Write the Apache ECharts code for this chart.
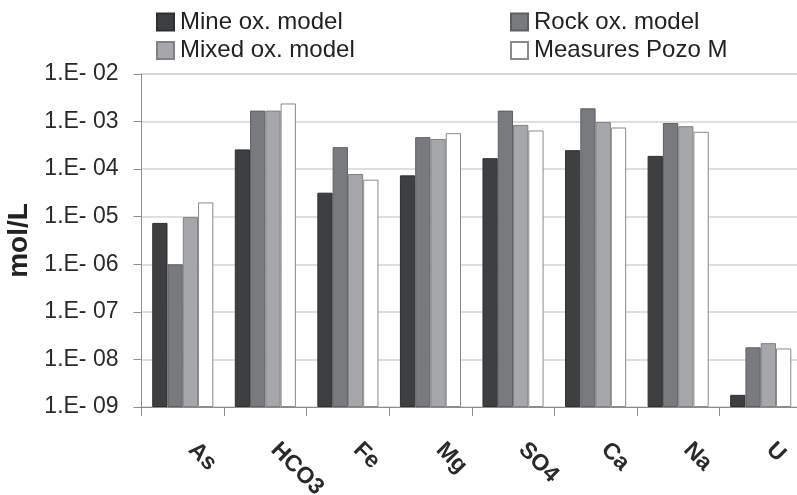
<!DOCTYPE html>
<html>
<head>
<meta charset="utf-8">
<script src="https://cdn.jsdelivr.net/npm/echarts@6/dist/echarts.min.js"></script>
<style>html,body{margin:0;padding:0;background:#fff}#c{width:797px;height:495px}</style>
</head>
<body>
<div id="c"></div>
<script>
const categories = ['As', 'HCO3', 'Fe', 'Mg', 'SO4', 'Ca', 'Na', 'U'];
const mineOx     = [7.4e-6, 2.6e-4, 3.2e-5, 7.4e-5, 1.7e-4, 2.5e-4, 1.9e-4, 1.8e-9];
const rockOx     = [1.0e-6, 1.7e-3, 2.9e-4, 4.7e-4, 1.7e-3, 1.9e-3, 9.3e-4, 1.8e-8];
const mixedOx    = [9.8e-6, 1.7e-3, 7.9e-5, 4.3e-4, 8.5e-4, 9.8e-4, 8.0e-4, 2.2e-8];
const measures   = [2.0e-5, 2.4e-3, 6.0e-5, 5.7e-4, 6.5e-4, 7.5e-4, 6.1e-4, 1.7e-8];
const seriesNames = ['Mine ox. model', 'Rock ox. model', 'Mixed ox. model', 'Measures Pozo M'];
const yMin = 1e-9, yMax = 1e-2;

const fills = ['#3e3f41', '#797a7e', '#a6a7ab', '#ffffff'];
const borders = ['#2e2f31', '#5e5f63', '#808185', '#8a8a8a'];
const dataSets = [mineOx, rockOx, mixedOx, measures];

const chart = echarts.init(document.getElementById('c'), null, {renderer: 'canvas'});
const font = 'Liberation Sans, Arial, sans-serif';
const legendPos = [[156, 10], [510, 10], [156, 38.5], [510, 38.5]];

chart.setOption({
  animation: false,
  backgroundColor: '#fff',
  textStyle: {fontFamily: font},
  legend: seriesNames.map((n, i) => ({
    data: [n], left: legendPos[i][0], top: legendPos[i][1],
    icon: 'rect', itemWidth: 17, itemHeight: 17, itemGap: 6,
    padding: 0,
    textStyle: {fontSize: 24, color: '#222', fontFamily: font, padding: [0, 0, 0, 1]}
  })),
  grid: {left: 141.5, right: -5, top: 74, bottom: 88, containLabel: false, outerBoundsMode: 'none'},
  xAxis: {
    type: 'category', data: categories,
    axisLine: {lineStyle: {color: '#8c8c8c', width: 1}},
    axisTick: {show: true, length: 9, lineStyle: {color: '#8c8c8c'}},
    axisLabel: {rotate: -45, margin: 30, padding: [0, 0, 0, 13], fontSize: 23, fontWeight: 'bold', color: '#2a2a2a', fontFamily: font, interval: 0},
    splitLine: {show: false}
  },
  yAxis: {
    type: 'log', logBase: 10, min: yMin, max: yMax, interval: 1, startValue: yMin,
    name: 'mol/L', nameLocation: 'middle', nameGap: 106, nameRotate: 90,
    nameTextStyle: {fontSize: 28, fontWeight: 'bold', color: '#222', fontFamily: font},
    axisLine: {show: true, lineStyle: {color: '#8c8c8c'}},
    axisTick: {show: true, inside: false, length: 8, lineStyle: {color: '#8c8c8c'}},
    axisLabel: {
      margin: 23, fontSize: 23, color: '#2a2a2a', fontFamily: font,
      formatter: v => { const e = Math.round(-Math.log10(v)); return '1.E- ' + (e < 10 ? '0' + e : e); }
    },
    splitLine: {show: true, lineStyle: {color: '#d4d4d4', width: 1.5}}
  },
  series: seriesNames.map((n, i) => ({
    name: n, type: 'bar', data: dataSets[i],
    barGap: '0%', barCategoryGap: '26%',
    itemStyle: {color: fills[i], borderColor: borders[i], borderWidth: 1}
  }))
});
</script>
</body>
</html>
